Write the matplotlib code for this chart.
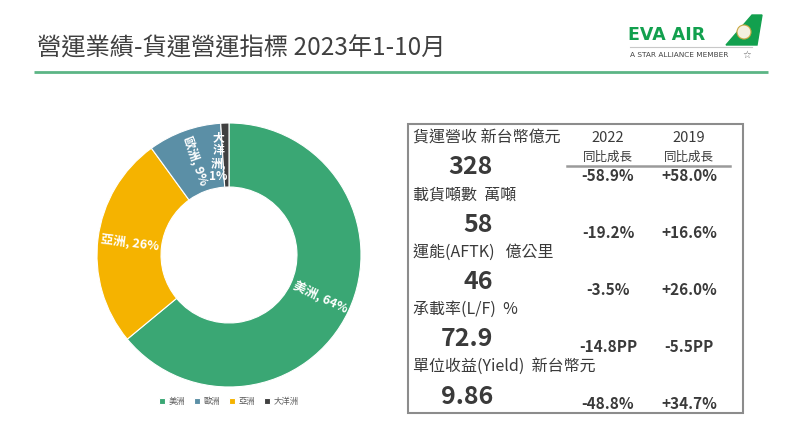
import numpy as np
import matplotlib.pyplot as plt
from matplotlib.patches import Rectangle, Polygon, Circle

plt.rcParams['font.family'] = ['Noto Sans CJK TC', 'DejaVu Sans']

# data
regions = ['美洲', '亞洲', '歐洲', '大洋洲']
shares = [64, 26, 9, 1]
colors = ['#3aa774', '#f5b300', '#5b8fa6', '#404040']
legend_order = ['美洲', '歐洲', '亞洲', '大洋洲']

metric_labels = ['貨運營收 新台幣億元', '載貨噸數  萬噸', '運能(AFTK)   億公里',
                 '承載率(L/F)  %', '單位收益(Yield)  新台幣元']
metric_values = ['328', '58', '46', '72.9', '9.86']
yoy_2022 = ['-58.9%', '-19.2%', '-3.5%', '-14.8PP', '-48.8%']
yoy_2019 = ['+58.0%', '+16.6%', '+26.0%', '-5.5PP', '+34.7%']
col_years = ['2022', '2019']
col_sub = '同比成長'

W, H = 800, 441
fig = plt.figure(figsize=(W / 100, H / 100), dpi=100)
bg = fig.add_axes([0, 0, 1, 1])
bg.set_xlim(0, W)
bg.set_ylim(H, 0)
bg.axis('off')

txt = '#3a3a3a'

# header
bg.text(37, 48, '營運業績-貨運營運指標 2023年1-10月', fontsize=17.5, color='#404040',
        va='center', ha='left')
bg.plot([34, 768], [72, 72], color='#5cb585', lw=2, solid_capstyle='butt')

# logo
bg.text(628, 35, 'EVA AIR', fontsize=12.5, fontweight='heavy', color='#12a04e',
        family=['DejaVu Sans'], va='center', ha='left')
bg.add_patch(Polygon([(726, 45), (757, 45), (762, 15), (752, 15)], closed=True,
                     color='#12a04e'))
bg.add_patch(Circle((744, 32), 7, facecolor='#f4f0e0', edgecolor='#c9a640', lw=0.8))
bg.plot([630, 752], [47, 47], color='#c8c8c8', lw=0.8)
bg.text(630, 55, 'A STAR ALLIANCE MEMBER', fontsize=5.3, color='#444444',
        family=['DejaVu Sans'], va='center', ha='left')
bg.text(747, 55, '☆', fontsize=7, color='#666666', family=['DejaVu Sans'],
        va='center', ha='center')

# donut
cx, cy, R = 229, 255, 132
pax = fig.add_axes([(cx - R) / W, (H - cy - R) / H, 2 * R / W, 2 * R / H])
wedges, _ = pax.pie(shares, colors=colors, startangle=90, counterclock=False,
                    wedgeprops=dict(width=0.485, edgecolor='white', linewidth=0.8))
pax.set_xlim(-1, 1)
pax.set_ylim(-1, 1)
pax.set_aspect('equal')

cum = np.cumsum([0] + shares[:-1])
for name, val, start in zip(regions, shares, cum):
    mid = 90 - (start + val / 2) * 3.6
    r = 0.76
    x, y = r * np.cos(np.radians(mid)), r * np.sin(np.radians(mid))
    fs = 9
    if val < 3:
        # thin slice: stack the label vertically beside it
        label = '\n'.join(list(name[:-1]) + [name[-1] + ',', f'{val}%'])
        rot = 0
        y = 0.74
        x = -0.08
        fs = 8.5
    else:
        label = f'{name}, {val}%'
        rot = (mid + 180) % 360 - 180
        if rot > 90:
            rot -= 180
        elif rot < -90:
            rot += 180
    pax.text(x, y, label, color='white', fontsize=fs, fontweight='bold',
             rotation=rot, ha='center', va='center', rotation_mode='anchor',
             linespacing=1.0)

handles = [wedges[regions.index(n)] for n in legend_order]
pax.legend(handles, legend_order, loc='upper center', bbox_to_anchor=(0.5, -0.01),
           ncol=4, frameon=False, fontsize=6, handlelength=0.7, handleheight=0.7,
           handletextpad=0.5, columnspacing=1.0, labelcolor='#595959')

# table
bg.add_patch(Rectangle((408, 124), 335, 289, fill=False, edgecolor='#8c8c8c', lw=1.5))
col_x = [608, 689]
for x, yr in zip(col_x, col_years):
    bg.text(x, 138, yr, fontsize=10.5, color=txt, ha='center', va='center')
    bg.text(x, 157, col_sub, fontsize=9, color=txt, ha='center', va='center')
bg.plot([567, 730], [166, 166], color='#9a9a9a', lw=1.8)

for i in range(len(metric_labels)):
    bg.text(413, 138 + i * 57, metric_labels[i], fontsize=11.5, color=txt,
            ha='left', va='center')
    bg.text(493, 167 + i * 57.5, metric_values[i], fontsize=18, fontweight='bold',
            color=txt, ha='right', va='center')
    py = 176 + i * 57
    bg.text(col_x[0], py, yoy_2022[i], fontsize=11, fontweight='bold', color=txt,
            ha='center', va='center')
    bg.text(col_x[1], py, yoy_2019[i], fontsize=11, fontweight='bold', color=txt,
            ha='center', va='center')

fig.savefig('out.png', dpi=100)
